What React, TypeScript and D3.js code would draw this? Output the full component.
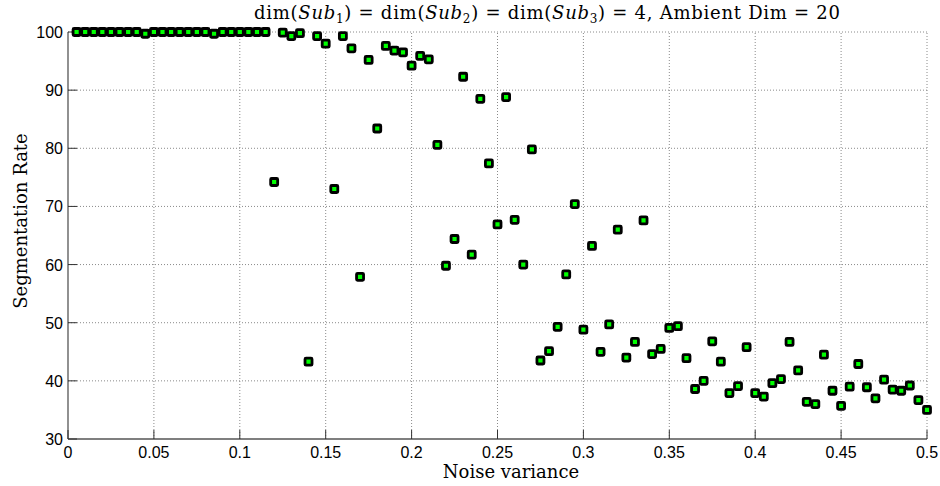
import React from "react";
import * as d3 from "d3";

const noiseVariance: number[] = d3.range(1, 101).map((i) => +(i * 0.005).toFixed(3));

const segmentationRate: number[] = [
  100, 100, 100, 100, 100, 100, 100, 100, 99.7, 100,
  100, 100, 100, 100, 100, 100, 99.7, 100, 100, 100,
  100, 100, 100, 74.2, 99.9, 99.3, 99.8, 43.3, 99.3, 98.0,
  73.0, 99.3, 97.2, 57.9, 95.2, 83.4, 97.6, 96.8, 96.5, 94.2,
  95.9, 95.3, 80.6, 59.8, 64.4, 92.3, 61.7, 88.5, 77.4, 66.9,
  88.8, 67.7, 60.0, 79.8, 43.5, 45.1, 49.3, 58.3, 70.4, 48.8,
  63.2, 45.0, 49.7, 66.0, 44.0, 46.7, 67.6, 44.6, 45.5, 49.1,
  49.4, 43.9, 38.6, 40.0, 46.8, 43.3, 37.9, 39.1, 45.8, 37.9,
  37.3, 39.6, 40.3, 46.7, 41.8, 36.4, 36.0, 44.5, 38.3, 35.7,
  39.0, 42.9, 38.9, 37.0, 40.2, 38.5, 38.3, 39.2, 36.7, 35.0,
];

const xTicks: number[] = [0, 0.05, 0.1, 0.15, 0.2, 0.25, 0.3, 0.35, 0.4, 0.45, 0.5];
const yTicks: number[] = [30, 40, 50, 60, 70, 80, 90, 100];

const W = 940;
const H = 486;
const margin = { left: 68, right: 13, top: 32, bottom: 47 };

export default function App() {
  const x = d3.scaleLinear().domain([0, 0.5]).range([margin.left, W - margin.right]);
  const y = d3.scaleLinear().domain([30, 100]).range([H - margin.bottom, margin.top]);
  const [x0, x1] = x.range();
  const [y0, y1] = y.range();
  const serif = "'DejaVu Serif', 'Liberation Serif', serif";
  const sans = "'Liberation Sans', Arial, sans-serif";
  const fmt = (v: number) => String(+v.toFixed(2));

  return (
    <svg
      width={W}
      height={H}
      style={{ position: "absolute", left: 0, top: 0, background: "#fff" }}
    >
      <rect x={0} y={0} width={W} height={H} fill="#fff" />
      {/* grid */}
      {xTicks.slice(1).map((t) => (
        <line
          key={"gx" + t}
          x1={x(t)}
          x2={x(t)}
          y1={y0}
          y2={y1}
          stroke="#8a8a8a"
          strokeWidth={1}
          strokeDasharray="1,2"
        />
      ))}
      {yTicks.slice(1).map((t) => (
        <line
          key={"gy" + t}
          x1={x0}
          x2={x1}
          y1={y(t)}
          y2={y(t)}
          stroke="#8a8a8a"
          strokeWidth={1}
          strokeDasharray="1,2"
        />
      ))}
      {/* axes */}
      <line x1={x0} x2={x1} y1={y0} y2={y0} stroke="#555" strokeWidth={1.3} />
      <line x1={x0} x2={x0} y1={y0} y2={y1} stroke="#555" strokeWidth={1.3} />
      {xTicks.map((t) => (
        <g key={"tx" + t}>
          <line x1={x(t)} x2={x(t)} y1={y0} y2={y0 - 9} stroke="#333" strokeWidth={1} />
          <text
            x={x(t)}
            y={y0 + 19}
            textAnchor="middle"
            fontFamily={sans}
            fontSize={16}
            fill="#000"
          >
            {fmt(t)}
          </text>
        </g>
      ))}
      {yTicks.map((t) => (
        <g key={"ty" + t}>
          <line x1={x0} x2={x0 + 9} y1={y(t)} y2={y(t)} stroke="#333" strokeWidth={1} />
          <text
            x={x0 - 5}
            y={y(t) + 6}
            textAnchor="end"
            fontFamily={sans}
            fontSize={16}
            fill="#000"
          >
            {t}
          </text>
        </g>
      ))}
      {/* points */}
      {noiseVariance.map((v, i) => (
        <rect
          key={"p" + i}
          x={x(v) - 3.5}
          y={y(segmentationRate[i]) - 3.5}
          width={7}
          height={7}
          rx={1}
          fill="#00ff00"
          stroke="#000"
          strokeWidth={2.8}
        />
      ))}
      {/* title */}
      <text
        x={254}
        y={19}
        textAnchor="start"
        fontFamily={serif}
        fontSize={18}
        fill="#000"
        textLength={586}
        lengthAdjust="spacing"
      >
        dim(<tspan fontStyle="italic">Sub</tspan>
        <tspan fontSize={12} dy={4}>1</tspan>
        <tspan dy={-4}>) = dim(</tspan>
        <tspan fontStyle="italic">Sub</tspan>
        <tspan fontSize={12} dy={4}>2</tspan>
        <tspan dy={-4}>) = dim(</tspan>
        <tspan fontStyle="italic">Sub</tspan>
        <tspan fontSize={12} dy={4}>3</tspan>
        <tspan dy={-4}>) = 4, Ambient Dim = 20</tspan>
      </text>
      <text x={511} y={478} textAnchor="middle" fontFamily={serif} fontSize={18} fill="#000">
        Noise variance
      </text>
      <text
        transform={`translate(27,221) rotate(-90)`}
        textAnchor="middle"
        fontFamily={serif}
        fontSize={18}
        fill="#000"
      >
        Segmentation Rate
      </text>
    </svg>
  );
}
